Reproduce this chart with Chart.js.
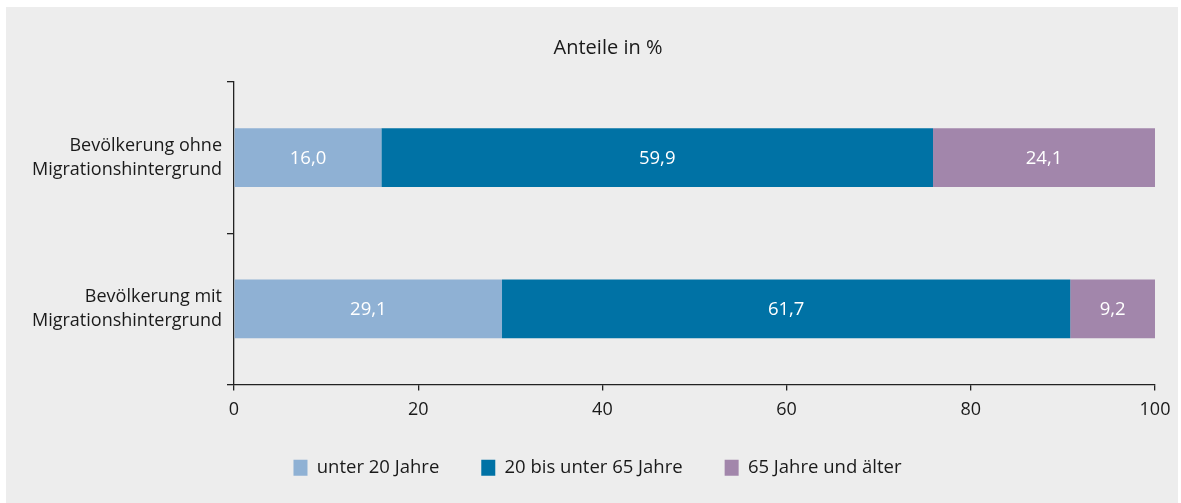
<!DOCTYPE html>
<html>
<head>
<meta charset="utf-8">
<script src="https://cdn.jsdelivr.net/npm/chart.js@4"></script>
<style>
  html, body { margin: 0; padding: 0; background: #fff; }
  #wrap { width: 1181px; height: 503px; }
</style>
</head>
<body>
<div id="wrap"><canvas id="myChart" width="1181" height="503"></canvas></div>
<script>
const categories = [
    ['Bevölkerung ohne', 'Migrationshintergrund'],
    ['Bevölkerung mit', 'Migrationshintergrund']
];
const seriesNames = ['unter 20 Jahre', '20 bis unter 65 Jahre', '65 Jahre und älter'];
const under20 = [16.0, 29.1];
const from20to65 = [59.9, 61.7];
const over65 = [24.1, 9.2];
const xTicks = [0, 20, 40, 60, 80, 100];
const chartTitle = 'Anteile in %';

const colors = ['#8fb1d4', '#0072a5', '#a286ab'];
const fontFamily = '"Open Sans", sans-serif';
const textColor = '#1a1a1a';

// grey panel behind everything
const panelPlugin = {
    id: 'panel',
    beforeDraw(chart) {
        const ctx = chart.ctx;
        ctx.save();
        ctx.fillStyle = '#ffffff';
        ctx.fillRect(0, 0, chart.width, chart.height);
        ctx.fillStyle = '#ededed';
        ctx.fillRect(6, 7, chart.width - 9, chart.height - 7);
        ctx.restore();
    }
};

// the legend in the original is centred a little right of the canvas middle
const legendShift = {
    id: 'legendShift',
    afterLayout(chart) {
        chart.legend.left += 20;
        chart.legend.right += 20;
    }
};

// title sits a bit right of the canvas centre in the original
const titlePlugin = {
    id: 'ownTitle',
    afterDraw(chart) {
        const ctx = chart.ctx;
        ctx.save();
        ctx.font = '20px ' + fontFamily;
        ctx.fillStyle = textColor;
        ctx.textAlign = 'center';
        ctx.textBaseline = 'middle';
        ctx.fillText(chartTitle, 608, 48);
        ctx.restore();
    }
};

// white value labels in the middle of each segment
const valuePlugin = {
    id: 'values',
    afterDatasetsDraw(chart) {
        const ctx = chart.ctx;
        ctx.save();
        ctx.font = '18.5px ' + fontFamily;
        ctx.fillStyle = '#ffffff';
        ctx.textAlign = 'center';
        ctx.textBaseline = 'middle';
        chart.data.datasets.forEach((ds, i) => {
            chart.getDatasetMeta(i).data.forEach((bar, j) => {
                const cx = (bar.x + bar.base) / 2;
                ctx.fillText(ds.data[j].toFixed(1).replace('.', ','), cx, bar.y + 1);
            });
        });
        ctx.restore();
    }
};

const data = {
    labels: categories,
    datasets: [under20, from20to65, over65].map((vals, i) => ({
        label: seriesNames[i],
        data: vals,
        backgroundColor: colors[i],
        borderWidth: 0,
        barPercentage: 1,
        categoryPercentage: 0.387
    }))
};

const options = {
    indexAxis: 'y',
    responsive: false,
    animation: false,
    layout: { padding: { top: 82, right: 26, bottom: 16, left: 0 } },
    plugins: {
        title: { display: false },
        tooltip: { enabled: false },
        legend: {
            position: 'bottom',
            labels: {
                boxWidth: 14,
                boxHeight: 16,
                padding: 42,
                color: textColor,
                font: { family: fontFamily, size: 18.5 }
            }
        }
    },
    scales: {
        x: {
            stacked: true,
            min: 0,
            max: 100,
            afterBuildTicks(axis) { axis.ticks = xTicks.map(v => ({ value: v })); },
            afterFit(axis) { axis.height = 32; },
            border: { color: '#222', width: 1.3 },
            grid: { drawOnChartArea: false, tickLength: 6, color: '#222', lineWidth: 1.3 },
            ticks: { color: textColor, padding: 9, font: { family: fontFamily, size: 18 } }
        },
        y: {
            stacked: true,
            afterFit(axis) { axis.width = 234; },
            border: { color: '#222', width: 1.3 },
            grid: { drawOnChartArea: false, tickLength: 7, color: '#222', lineWidth: 1.3, offset: true },
            ticks: { color: textColor, padding: 5, font: { family: fontFamily, size: 18, lineHeight: 1.35 } }
        }
    }
};

new Chart(document.getElementById('myChart'), {
    type: 'bar',
    data: data,
    options: options,
    plugins: [panelPlugin, legendShift, titlePlugin, valuePlugin]
});
</script>
</body>
</html>
